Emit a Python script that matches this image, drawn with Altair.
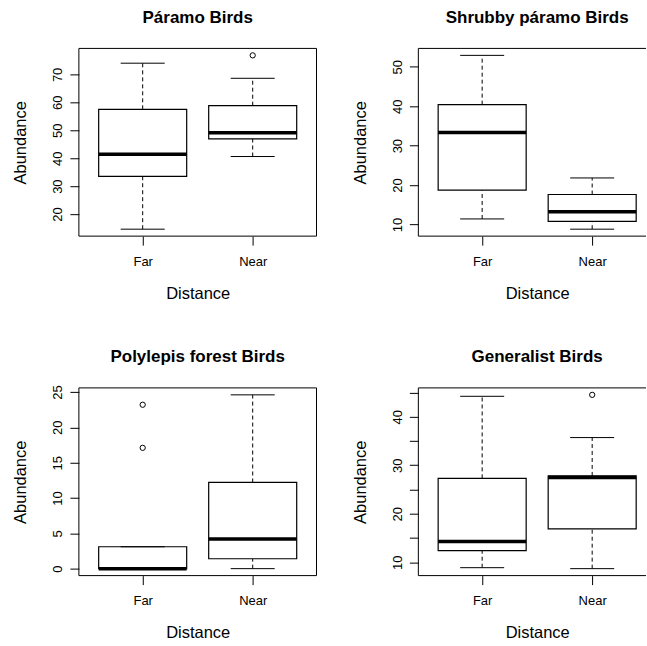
import altair as alt
import pandas as pd

categories = ["Far", "Near"]
titles = ["Páramo Birds", "Shrubby páramo Birds", "Polylepis forest Birds", "Generalist Birds"]

# per panel: [Far, Near]
whisker_low = [[14.6, 40.6], [11.4, 8.8], [0.0, 0.0], [8.9, 8.7]]
q1 = [[33.5, 46.9], [18.7, 10.8], [0.0, 1.4], [12.4, 16.9]]
median = [[41.4, 49.1], [33.3, 13.2], [0.0, 4.2], [14.3, 27.5]]
q3 = [[57.5, 58.8], [40.4, 17.6], [3.1, 12.2], [27.3, 27.8]]
whisker_high = [[74.0, 68.6], [52.9, 21.8], [3.1, 24.6], [44.2, 35.7]]
outliers = [[[], [76.8]], [[], []], [[17.1, 23.2], []], [[], [44.5]]]

y_ticks = [[20, 30, 40, 50, 60, 70], [10, 20, 30, 40, 50], [0, 5, 10, 15, 20, 25],
           [10, 15, 20, 25, 30, 35, 40, 45]]
y_labels = [[20, 30, 40, 50, 60, 70], [10, 20, 30, 40, 50], [0, 5, 10, 15, 20, 25],
            [10, 20, 30, 40]]

FONT = "Liberation Sans"
LEFT_W, RIGHT_W, H = 238, 228, 188
UNIT = LEFT_W / 2.16
BLACK = "#000000"


def panel(i, right):
    W = RIGHT_W if right else LEFT_W
    xdom = [0.42, 0.42 + W / UNIT]
    pos = [k + 1 for k in range(len(categories))]
    df = pd.DataFrame({
        "cat": categories, "pos": pos,
        "lo": whisker_low[i], "q1": q1[i], "med": median[i],
        "q3": q3[i], "hi": whisker_high[i],
    })
    df["left"] = df["pos"] - 0.4
    df["right"] = df["pos"] + 0.4
    df["capl"] = df["pos"] - 0.2
    df["capr"] = df["pos"] + 0.2
    out_rows = [{"pos": k + 1, "v": v} for k in range(len(categories)) for v in outliers[i][k]]
    out_df = pd.DataFrame(out_rows, columns=["pos", "v"])

    allv = list(whisker_low[i]) + list(whisker_high[i]) + [v for o in outliers[i] for v in o]
    lo, hi = min(allv), max(allv)
    pad = 0.04 * (hi - lo)
    xs = alt.Scale(domain=xdom, nice=False, zero=False)
    ys = alt.Scale(domain=[lo - pad, hi + pad], nice=False, zero=False)

    cat_arr = "[" + ",".join("'" + c + "'" for c in categories) + "]"
    lab_arr = "[" + ",".join(str(v) for v in y_labels[i]) + "]"
    xaxis = alt.Axis(values=pos, labelExpr=cat_arr + "[datum.value-1]", title="Distance",
                     titleX=LEFT_W / 2, titleY=57, titleBaseline="middle", titleAlign="center",
                     tickSize=9, labelPadding=10, domain=False, grid=False,
                     labelFontSize=13, titleFontSize=16.5, titleFontWeight="normal")
    yaxis = alt.Axis(values=y_ticks[i], labelExpr="indexof(" + lab_arr + ", datum.value) >= 0 ? datum.label : ''",
                     title="Abundance", titleX=-58, titleY=H / 2, titleAngle=270,
                     titleBaseline="middle", titleAlign="center",
                     labelAngle=270, labelAlign="center", labelBaseline="bottom",
                     tickSize=9, labelPadding=5, domain=False, grid=False,
                     labelFontSize=13, titleFontSize=16.5, titleFontWeight="normal")

    def X(f):
        return alt.X(f, scale=xs, axis=xaxis)

    def Y(f):
        return alt.Y(f, scale=ys, axis=yaxis)

    base = alt.Chart(df)
    up = base.mark_rule(color=BLACK, strokeWidth=1, strokeDash=[4, 3]).encode(
        x=X("pos:Q"), y=Y("q3:Q"), y2="hi:Q")
    down = base.mark_rule(color=BLACK, strokeWidth=1, strokeDash=[4, 3]).encode(
        x=X("pos:Q"), y=Y("lo:Q"), y2="q1:Q")
    box = base.mark_rect(fill="white", stroke=BLACK, strokeWidth=1.2).encode(
        x=X("left:Q"), x2="right:Q", y=Y("q1:Q"), y2="q3:Q")
    med = base.mark_rule(color=BLACK, strokeWidth=3.5).encode(
        x=X("left:Q"), x2="right:Q", y=Y("med:Q"))
    cap_hi = base.mark_rule(color=BLACK, strokeWidth=1).encode(
        x=X("capl:Q"), x2="capr:Q", y=Y("hi:Q"))
    cap_lo = base.mark_rule(color=BLACK, strokeWidth=1).encode(
        x=X("capl:Q"), x2="capr:Q", y=Y("lo:Q"))
    layers = [up, down, box, med, cap_hi, cap_lo]
    if len(out_df):
        pts = alt.Chart(out_df).mark_point(shape="circle", filled=False, size=28,
                                           color=BLACK, strokeWidth=1, opacity=1).encode(
            x=X("pos:Q"), y=Y("v:Q"))
        layers.append(pts)

    one = alt.Chart(pd.DataFrame({"a": [0]}))
    fr = dict(color=BLACK, strokeWidth=1)
    layers.append(one.mark_rule(**fr).encode(x=alt.value(0), x2=alt.value(W), y=alt.value(0)))
    layers.append(one.mark_rule(**fr).encode(x=alt.value(0), x2=alt.value(W), y=alt.value(H)))
    layers.append(one.mark_rule(**fr).encode(x=alt.value(0), y=alt.value(0), y2=alt.value(H)))
    if not right:
        layers.append(one.mark_rule(**fr).encode(x=alt.value(W), y=alt.value(0), y2=alt.value(H)))

    dx = (LEFT_W - W) / 2
    dy = 2 if i == 2 else 0
    return alt.layer(*layers).properties(
        width=W, height=H,
        title=alt.TitleParams(titles[i], fontSize=17, fontWeight="bold", anchor="middle",
                              frame="group", baseline="alphabetic", offset=8, dx=dx, dy=dy,
                              color=BLACK, font=FONT),
    )


chart = alt.ConcatChart(
    concat=[panel(0, False), panel(1, True), panel(2, False), panel(3, True)],
    columns=2,
    spacing=alt.RowColnumber(row=152, column=102),
    bounds="flush",
).properties(
    padding={"left": 13, "top": 8, "right": 0, "bottom": 0},
    background="white",
).configure_view(stroke=None).configure_axis(
    labelFont=FONT, titleFont=FONT, labelColor=BLACK, titleColor=BLACK,
    tickColor=BLACK, tickWidth=1,
).configure_title(font=FONT)

chart.save("out.html", embed_options={"renderer": "svg", "actions": False})
